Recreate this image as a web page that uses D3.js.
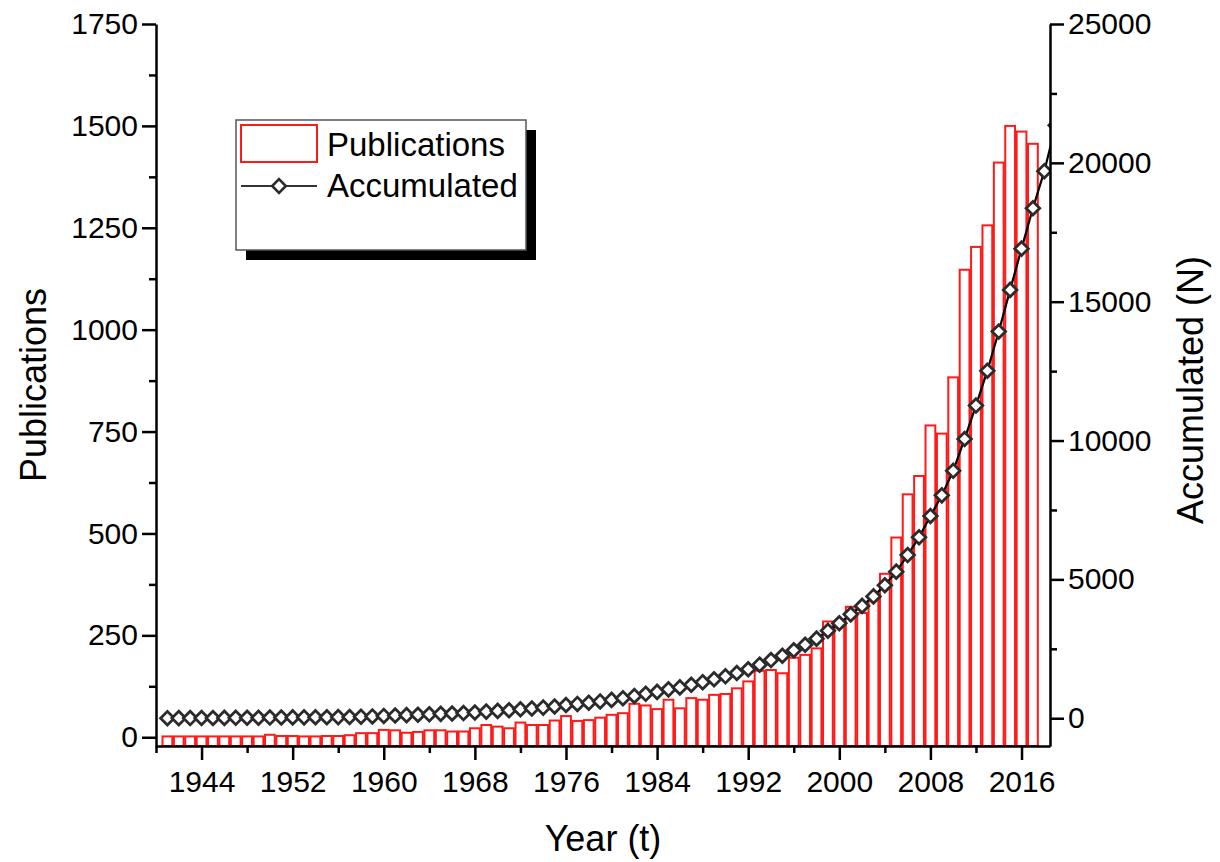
<!DOCTYPE html>
<html>
<head>
<meta charset="utf-8">
<script src="https://cdn.jsdelivr.net/npm/d3@7"></script>
<style>
  body { margin: 0; background: #fff; }
  text { font-family: "Liberation Sans", Arial, sans-serif; fill: #000; }
</style>
</head>
<body>
<svg id="chart" width="1220" height="862"></svg>
<script>
// Yearly publication counts (bars)
const pubYears = [
  1941,1942,1943,1944,1945,1946,1947,1948,1949,1950,
  1951,1952,1953,1954,1955,1956,1957,1958,1959,1960,
  1961,1962,1963,1964,1965,1966,1967,1968,1969,1970,
  1971,1972,1973,1974,1975,1976,1977,1978,1979,1980,
  1981,1982,1983,1984,1985,1986,1987,1988,1989,1990,
  1991,1992,1993,1994,1995,1996,1997,1998,1999,2000,
  2001,2002,2003,2004,2005,2006,2007,2008,2009,2010,
  2011,2012,2013,2014,2015,2016,2017
];
const publications = [
  2,2,2,2,2,2,2,2,2,6,
  3,3,2,2,3,3,5,10,10,18,
  17,11,13,17,17,14,14,22,30,26,
  22,36,30,30,41,52,40,42,48,55,
  59,82,78,69,92,71,96,92,104,106,
  120,137,163,165,157,195,202,218,284,270,
  320,305,343,401,490,596,641,765,745,883,
  1147,1203,1256,1410,1500,1486,1456
];

// Accumulated publication count (diamonds, right axis)
const accYears = [
  1941,1942,1943,1944,1945,1946,1947,1948,1949,1950,
  1951,1952,1953,1954,1955,1956,1957,1958,1959,1960,
  1961,1962,1963,1964,1965,1966,1967,1968,1969,1970,
  1971,1972,1973,1974,1975,1976,1977,1978,1979,1980,
  1981,1982,1983,1984,1985,1986,1987,1988,1989,1990,
  1991,1992,1993,1994,1995,1996,1997,1998,1999,2000,
  2001,2002,2003,2004,2005,2006,2007,2008,2009,2010,
  2011,2012,2013,2014,2015,2016,2017,2018,2019
];
const accumulated = [
  2,4,6,8,10,12,14,16,18,24,
  27,30,32,34,37,40,45,55,65,83,
  100,111,124,141,158,172,186,208,238,264,
  286,322,352,382,423,475,515,557,605,660,
  719,801,879,948,1040,1111,1207,1299,1403,1509,
  1629,1766,1929,2094,2251,2446,2648,2866,3150,3420,
  3740,4045,4388,4789,5279,5875,6516,7281,8026,8909,
  10056,11259,12515,13925,15425,16911,18367,19700,21350
];

// Axis ticks
const leftTicks = [0,250,500,750,1000,1250,1500,1750];
const leftMinor = [125,375,625,875,1125,1375,1625];
const rightTicks = [0,5000,10000,15000,20000,25000];
const rightMinor = [2500,7500,12500,17500,22500];
const yearTicks = [1944,1952,1960,1968,1976,1984,1992,2000,2008,2016];
const yearMinor = [1940,1948,1956,1964,1972,1980,1988,1996,2004,2012];

const seriesNames = ["Publications", "Accumulated"];

const svg = d3.select("#chart");
const plot = { left: 156, right: 1050, top: 24, bottom: 746 };

const x = d3.scaleLinear().domain([1940, 2018.5]).range([plot.left, plot.right]);
const yL = d3.scaleLinear().domain([-21.5, 1750]).range([plot.bottom, plot.top]);
const yR = d3.scaleLinear().domain([-1000, 25000]).range([plot.bottom, plot.top]);

svg.append("defs").append("clipPath").attr("id", "plotClip")
  .append("rect")
  .attr("x", plot.left).attr("y", plot.top)
  .attr("width", plot.right - plot.left).attr("height", plot.bottom - plot.top);

const g = svg.append("g").attr("clip-path", "url(#plotClip)");

// Bars
const step = x(1) - x(0);
const barW = step - 1.6;
g.append("g").selectAll("rect")
  .data(pubYears.map((yr, i) => ({ yr, v: publications[i] })))
  .join("rect")
  .attr("x", d => x(d.yr) - barW / 2)
  .attr("y", d => yL(d.v))
  .attr("width", barW)
  .attr("height", d => plot.bottom - yL(d.v))
  .attr("fill", "none")
  .attr("stroke", "#ff1a1a")
  .attr("stroke-width", 2);

// Accumulated line with diamond markers
const accData = accYears.map((yr, i) => ({ yr, v: accumulated[i] }));
g.append("path")
  .datum(accData)
  .attr("d", d3.line().x(d => x(d.yr)).y(d => yR(d.v)))
  .attr("fill", "none")
  .attr("stroke", "#000")
  .attr("stroke-width", 2.2);

const diamond = d3.symbol().type(d3.symbolDiamond2).size(118);
g.append("g").selectAll("path")
  .data(accData)
  .join("path")
  .attr("transform", d => `translate(${x(d.yr)},${yR(d.v)})`)
  .attr("d", diamond)
  .attr("fill", "#fff")
  .attr("stroke", "#2b2b2b")
  .attr("stroke-width", 2.8);

// Axes
const axisStyle = sel => {
  sel.select(".domain").attr("stroke", "#000").attr("stroke-width", 2.5);
  sel.selectAll(".tick line").attr("stroke", "#000").attr("stroke-width", 2.5);
  sel.selectAll(".tick text").style("font-size", "30px").attr("fill", "#000");
};
const intFmt = d3.format("d");

svg.append("g")
  .attr("transform", `translate(${plot.left},0)`)
  .call(d3.axisLeft(yL).tickValues(leftTicks).tickFormat(intFmt).tickSize(14).tickPadding(4).tickSizeOuter(0))
  .call(axisStyle);
svg.append("g")
  .attr("transform", `translate(${plot.left},0)`)
  .call(d3.axisLeft(yL).tickValues(leftMinor).tickSize(7).tickFormat("").tickSizeOuter(0))
  .call(axisStyle)
  .call(s => s.select(".domain").remove());

svg.append("g")
  .attr("transform", `translate(${plot.right},0)`)
  .call(d3.axisRight(yR).tickValues(rightTicks).tickFormat(intFmt).tickSize(14).tickPadding(4).tickSizeOuter(0))
  .call(axisStyle);
svg.append("g")
  .attr("transform", `translate(${plot.right},0)`)
  .call(d3.axisRight(yR).tickValues(rightMinor).tickSize(7).tickFormat("").tickSizeOuter(0))
  .call(axisStyle)
  .call(s => s.select(".domain").remove());

svg.append("g")
  .attr("transform", `translate(0,${plot.bottom})`)
  .call(d3.axisBottom(x).tickValues(yearTicks).tickFormat(intFmt).tickSize(14).tickPadding(11).tickSizeOuter(0))
  .call(axisStyle);
svg.append("g")
  .attr("transform", `translate(0,${plot.bottom})`)
  .call(d3.axisBottom(x).tickValues(yearMinor).tickSize(7).tickFormat("").tickSizeOuter(0))
  .call(axisStyle)
  .call(s => s.select(".domain").remove());

// Axis titles
svg.append("text")
  .attr("transform", "translate(46,385) rotate(-90)")
  .attr("text-anchor", "middle")
  .style("font-size", "36px")
  .text("Publications");
svg.append("text")
  .attr("transform", "translate(1203,390) rotate(-90)")
  .attr("text-anchor", "middle")
  .style("font-size", "36px")
  .text("Accumulated (N)");
svg.append("text")
  .attr("x", 603).attr("y", 851)
  .attr("text-anchor", "middle")
  .style("font-size", "36px")
  .text("Year (t)");

// Legend
const lg = svg.append("g");
const box = { x: 236, y: 120, w: 290, h: 130 };
lg.append("rect")
  .attr("x", box.x + 10).attr("y", box.y + 10)
  .attr("width", box.w).attr("height", box.h)
  .attr("fill", "#000");
lg.append("rect")
  .attr("x", box.x).attr("y", box.y)
  .attr("width", box.w).attr("height", box.h)
  .attr("fill", "#fff").attr("stroke", "#555").attr("stroke-width", 1.5);
lg.append("rect")
  .attr("x", 241).attr("y", 125).attr("width", 76).attr("height", 37)
  .attr("fill", "#fff").attr("stroke", "#ff1a1a").attr("stroke-width", 2);
lg.append("line")
  .attr("x1", 241).attr("x2", 317).attr("y1", 186).attr("y2", 186)
  .attr("stroke", "#333").attr("stroke-width", 2);
lg.append("path")
  .attr("transform", "translate(279,186)")
  .attr("d", diamond)
  .attr("fill", "#fff").attr("stroke", "#2b2b2b").attr("stroke-width", 2.6);
lg.selectAll("text.leg")
  .data(seriesNames)
  .join("text")
  .attr("class", "leg")
  .attr("x", 327)
  .attr("y", (d, i) => 156 + i * 41)
  .style("font-size", "33px")
  .text(d => d);
</script>
</body>
</html>
